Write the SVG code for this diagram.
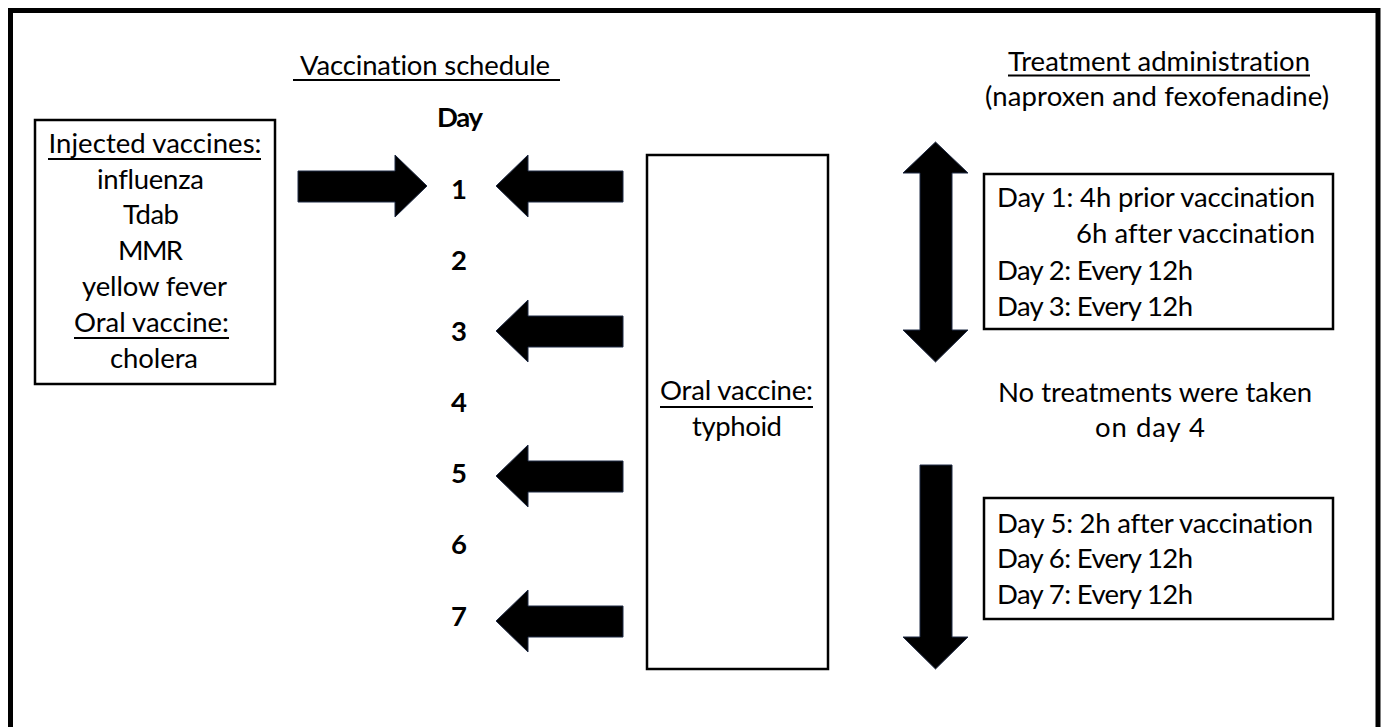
<svg xmlns="http://www.w3.org/2000/svg" width="1384" height="727" viewBox="0 0 1384 727">
<style>
  text { font-family: Lato, "Open Sans", "Liberation Sans", sans-serif; font-size: 27.5px; fill: #000; font-variant-ligatures: none; }
  .c { text-anchor: middle; }
  .b { font-weight: bold; }
  .box { fill: #fff; stroke: #000; stroke-width: 2.5; }
  .ul { stroke: #000; stroke-width: 2; }
  .arr { fill: #000; stroke: #1f2a44; stroke-width: 1; stroke-linejoin: miter; }
</style>
<rect x="0" y="0" width="1384" height="727" fill="#fff"/>
<path d="M10.5,727 V10.5 H1378 V727" fill="none" stroke="#000" stroke-width="5"/>

<g id="title-vaccination">
  <text x="300" y="75" textLength="250">Vaccination schedule</text>
  <line class="ul" x1="293" y1="80" x2="560" y2="80"/>
</g>

<g id="title-treatment">
  <text class="c" x="1159" y="71" textLength="302">Treatment administration</text>
  <line class="ul" x1="1008" y1="75.5" x2="1310" y2="75.5"/>
  <text class="c" x="1157" y="106" textLength="344">(naproxen and fexofenadine)</text>
</g>

<g id="injected-box">
  <rect class="box" x="35" y="120" width="240" height="264"/>
  <text class="c" x="155" y="153" textLength="213">Injected vaccines:</text>
  <line class="ul" x1="48" y1="159" x2="261" y2="159"/>
  <text class="c" x="150.5" y="189" textLength="107">influenza</text>
  <text class="c" x="151" y="224" textLength="56">Tdab</text>
  <text class="c" x="150.5" y="260" textLength="65">MMR</text>
  <text class="c" x="154.5" y="296" textLength="145">yellow fever</text>
  <text class="c" x="151.5" y="332" textLength="155">Oral vaccine:</text>
  <line class="ul" x1="74" y1="338" x2="229" y2="338"/>
  <text class="c" x="154" y="368" textLength="88">cholera</text>
</g>

<g id="days">
  <text class="c b" x="460" y="127" textLength="46">Day</text>
  <text class="c b" x="459" y="199">1</text>
  <text class="c b" x="459" y="270">2</text>
  <text class="c b" x="459" y="341">3</text>
  <text class="c b" x="459" y="412">4</text>
  <text class="c b" x="459" y="483">5</text>
  <text class="c b" x="459" y="554">6</text>
  <text class="c b" x="459" y="626">7</text>
</g>

<g id="typhoid-box">
  <rect class="box" x="647" y="155" width="181" height="514"/>
  <text class="c" x="736.5" y="400" textLength="153">Oral vaccine:</text>
  <line class="ul" x1="660" y1="407" x2="813" y2="407"/>
  <text class="c" x="737" y="436" textLength="90">typhoid</text>
</g>

<g id="treatment-box-1">
  <rect class="box" x="984" y="174" width="349" height="155"/>
  <text x="997" y="207" textLength="318">Day 1: 4h prior vaccination</text>
  <text x="1076" y="243" textLength="239">6h after vaccination</text>
  <text x="997" y="280" textLength="196">Day 2: Every 12h</text>
  <text x="997" y="316" textLength="196">Day 3: Every 12h</text>
</g>

<g id="no-treatment-note">
  <text class="c" x="1155" y="402" textLength="314">No treatments were taken</text>
  <text class="c" x="1150" y="437" textLength="110">on day 4</text>
</g>

<g id="treatment-box-2">
  <rect class="box" x="984" y="498" width="349" height="121"/>
  <text x="997" y="533" textLength="316">Day 5: 2h after vaccination</text>
  <text x="997" y="568" textLength="196">Day 6: Every 12h</text>
  <text x="997" y="604" textLength="196">Day 7: Every 12h</text>
</g>

<g id="connectors">
  <polygon class="arr" points="298,171 395,171 395,155 427,186 395,217 395,202 298,202"/>
  <polygon class="arr" points="496,186 528,155 528,171 623,171 623,202 528,202 528,217"/>
  <polygon class="arr" points="496,331 528,300 528,316 623,316 623,347 528,347 528,362"/>
  <polygon class="arr" points="496,476 528,445 528,461 623,461 623,492 528,492 528,507"/>
  <polygon class="arr" points="496,621 528,590 528,606 623,606 623,637 528,637 528,652"/>
  <polygon class="arr" points="935.5,142 968,173 952,173 952,330 968,330 935.5,362 903,330 920,330 920,173 903,173"/>
  <polygon class="arr" points="920,465 952,465 952,637 968,637 935.5,669 903,637 920,637"/>
</g>
</svg>
